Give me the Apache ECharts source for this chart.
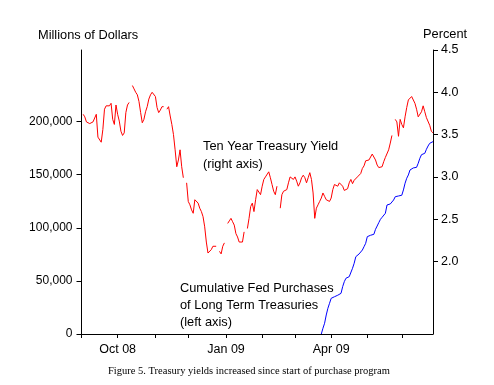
<!DOCTYPE html>
<html>
<head>
<meta charset="utf-8">
<script src="https://cdn.jsdelivr.net/npm/echarts@6/dist/echarts.min.js"></script>
<style>
html,body{margin:0;padding:0;background:#fff;}
#chart{width:494px;height:385px;}
</style>
</head>
<body>
<div id="chart"></div>
<script>
// Business-day categories (weekdays) from 1 Sep 2008 to 26 Jun 2009
var startDate = '2008-09-01';
var endDate = '2009-06-26';
var dates = [];
(function () {
  var d = new Date(startDate + 'T00:00:00Z');
  var e = new Date(endDate + 'T00:00:00Z');
  while (d <= e) {
    var wd = d.getUTCDay();
    if (wd !== 0 && wd !== 6) dates.push(d.toISOString().slice(0, 10));
    d.setUTCDate(d.getUTCDate() + 1);
  }
})();

// Ten-year Treasury yield, percent (null = market holiday)
var tenYearYield = [
  null, 3.74, 3.71, 3.65, 3.66, 3.63, 3.64, 3.65, 3.66, 3.74,
  3.47, 3.45, 3.41, 3.56, 3.80, 3.84, 3.82, 3.84, 3.87, 3.68,
  3.62, 3.85, 3.74, 3.66, 3.54, 3.49, 3.52, 3.76, 3.85, 3.88,
  null, 4.08, 4.04, 4.00, 3.97, 3.89, 3.76, 3.64, 3.68, 3.77,
  3.83, 3.92, 3.97, 4.00, 3.99, 3.95, 3.82, 3.76, 3.79, 3.83,
  3.83, null, 3.80, 3.83, 3.72, 3.62, 3.50, 3.32, 3.12, 3.20,
  3.32, 3.12, 2.99, null, 2.93, 2.71, 2.67, 2.61, 2.57, 2.73,
  2.75, 2.69, 2.63, 2.59, 2.53, 2.41, 2.23, 2.10, 2.10, 2.14,
  2.18, 2.18, 2.18, null, 2.12, 2.09, 2.18, 2.22, null, 2.45,
  2.48, 2.51, 2.47, 2.43, 2.33, 2.29, 2.23, 2.23, 2.23, 2.35,
  null, 2.39, 2.51, 2.65, 2.69, 2.59, 2.73, 2.85, 2.87, 2.79,
  2.89, 2.97, 3.00, 3.02, 3.06, 2.99, 2.91, 2.83, 2.79, 2.89,
  null, 2.63, 2.79, 2.83, 2.81, 2.85, 2.93, 3.00, 3.02, 2.97,
  3.00, 2.95, 2.89, 2.93, 2.99, 3.02, 2.99, 2.93, 2.99, 3.05,
  2.97, 2.81, 2.51, 2.63, 2.67, 2.71, 2.75, 2.81, 2.77, 2.73,
  2.71, 2.71, 2.75, 2.85, 2.91, 2.93, 2.89, 2.93, 2.94, 2.89,
  2.84, 2.82, 2.86, 2.93, 2.97, 2.92, 2.96, 2.95, 3.00, 3.00,
  3.04, 3.10, 3.13, 3.19, 3.19, 3.20, 3.22, 3.27, 3.26, 3.20,
  3.14, 3.11, 3.10, 3.12, 3.18, 3.23, 3.24, 3.32, 3.40, 3.49,
  null, 3.68, 3.65, 3.48, 3.68, 3.62, 3.58, 3.71, 3.82, 3.91,
  3.89, 3.95, 3.96, 3.87, 3.80, 3.71, 3.69, 3.77, 3.84, 3.77,
  3.70, 3.70, 3.61, 3.54, 3.52
];

// Cumulative Fed purchases of long-term Treasuries, millions of dollars, from fedStart onward
var fedStart = '2009-03-24';
var fedPurchases = [
  0, 5400, 10100, 17900, 24200, 28900, 33600, 34600, 35100, 35800,
  36500, 37000, 38300, 44600, 49300, 52500, 53000, 54000, 54900, 61900,
  66600, 72800, 74400, 75400, 76000, 79100, 82200, 85400, 91700, 92300,
  93000, 93300, 93900, 98600, 101700, 104900, 108000, 109900, 111200, 113700,
  121500, 122500, 122500, 123100, 126200, 129300, 130000, 130000, 130300, 130700,
  135700, 142000, 146700, 149800, 154500, 156100, 156400, 156700, 157000, 160800,
  165500, 168900, 169600, 170200, 174000, 177100, 179600, 180200, 181200
];

var leftTicks = [0, 50000, 100000, 150000, 200000];
var rightTicks = [2.0, 2.5, 3.0, 3.5, 4.0, 4.5];
var labelMonths = ['10', '01', '04'];
var monthNames = ['Jan','Feb','Mar','Apr','May','Jun','Jul','Aug','Sep','Oct','Nov','Dec'];

// align purchases to the date categories
var fedIdx = dates.indexOf(fedStart);
var fedSeries = dates.map(function (d, i) {
  var k = i - fedIdx;
  return (k >= 0 && k < fedPurchases.length) ? fedPurchases[k] : null;
});

function isMonthStart(i) {
  return i === 0 || dates[i].slice(5, 7) !== dates[i - 1].slice(5, 7);
}

var FONT = 'Liberation Sans, Arial, sans-serif';
var TXT = '12.8px ' + FONT;
var chart = echarts.init(document.getElementById('chart'), null, {renderer: 'canvas'});
chart.setOption({
  animation: false,
  backgroundColor: '#ffffff',
  grid: {left: 81.5, right: 61, top: 50, bottom: 51, containLabel: false, outerBoundsMode: 'none'},
  xAxis: {
    type: 'category',
    data: dates,
    boundaryGap: false,
    axisLine: {show: true, lineStyle: {color: '#000', width: 1}},
    axisTick: {
      show: true, length: 4, lineStyle: {color: '#000', width: 1},
      interval: function (i) { return isMonthStart(i); }
    },
    axisLabel: {
      show: true, color: '#000', fontFamily: FONT, fontSize: 12.5, margin: 9,
      interval: function (i, v) { return isMonthStart(i) && labelMonths.indexOf(v.slice(5, 7)) >= 0; },
      formatter: function (v) { return monthNames[+v.slice(5, 7) - 1] + ' ' + v.slice(2, 4); }
    },
    splitLine: {show: false}
  },
  yAxis: [
    {
      type: 'value', position: 'left', min: 0, max: 267500,
      axisLine: {show: true, lineStyle: {color: '#000', width: 1}},
      axisTick: {show: true, length: 5, customValues: leftTicks, lineStyle: {color: '#000'}},
      axisLabel: {
        show: true, color: '#000', fontFamily: FONT, fontSize: 12, margin: 9,
        customValues: leftTicks,
        formatter: function (v) { return String(v).replace(/\B(?=(\d{3})+(?!\d))/g, ','); }
      },
      splitLine: {show: false}
    },
    {
      type: 'value', position: 'right', min: 1.143, max: 4.5,
      axisLine: {show: true, lineStyle: {color: '#000', width: 1}},
      axisTick: {show: true, length: 5, customValues: rightTicks, lineStyle: {color: '#000'}},
      axisLabel: {
        show: true, color: '#000', fontFamily: FONT, fontSize: 12.5, margin: 8,
        customValues: rightTicks,
        formatter: function (v) { return v.toFixed(1); }
      },
      splitLine: {show: false}
    }
  ],
  series: [
    {
      type: 'line', yAxisIndex: 1, data: tenYearYield, showSymbol: false,
      connectNulls: false, lineStyle: {color: '#ff0000', width: 1}, itemStyle: {color: '#ff0000'}
    },
    {
      type: 'line', yAxisIndex: 0, data: fedSeries, showSymbol: false,
      connectNulls: false, lineStyle: {color: '#0000ff', width: 1}, itemStyle: {color: '#0000ff'}
    }
  ],
  graphic: [
    {type: 'text', left: 38, top: 29, style: {text: 'Millions of Dollars', font: TXT, fill: '#000'}},
    {type: 'text', left: 423, top: 28, style: {text: 'Percent', font: TXT, fill: '#000'}},
    {type: 'text', left: 203, top: 140, style: {text: 'Ten Year Treasury Yield', font: TXT, fill: '#000'}},
    {type: 'text', left: 203, top: 158, style: {text: '(right axis)', font: TXT, fill: '#000'}},
    {type: 'text', left: 180, top: 282, style: {text: 'Cumulative Fed Purchases', font: TXT, fill: '#000'}},
    {type: 'text', left: 180, top: 299, style: {text: 'of Long Term Treasuries', font: TXT, fill: '#000'}},
    {type: 'text', left: 180, top: 316, style: {text: '(left axis)', font: TXT, fill: '#000'}},
    {type: 'text', left: 108, top: 366, style: {text: 'Figure 5. Treasury yields increased since start of purchase program', font: '10.5px Liberation Serif, Times New Roman, serif', fill: '#000'}}
  ]
});
</script>
</body>
</html>
